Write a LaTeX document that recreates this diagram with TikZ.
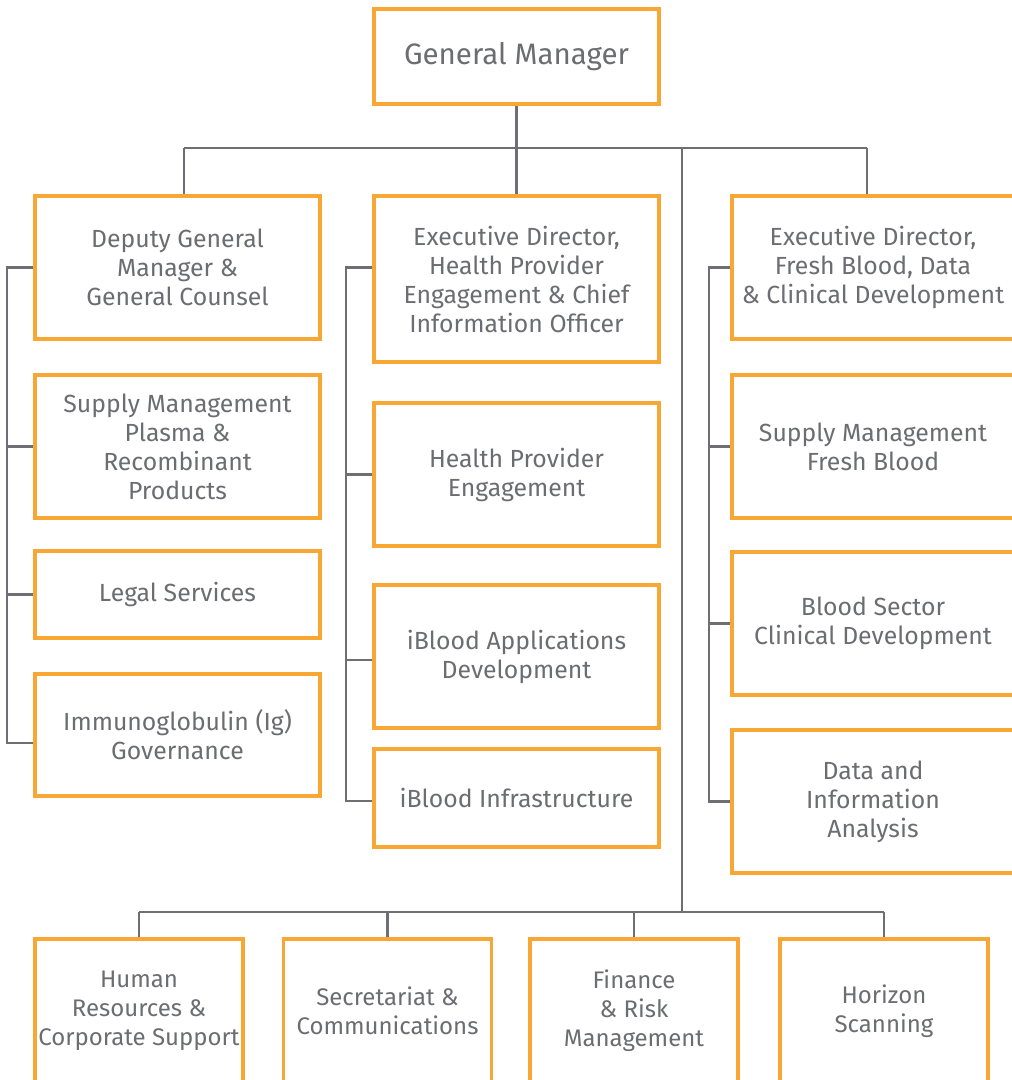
\documentclass[tikz,border=0pt]{standalone}
\usepackage{fontspec}
\setmainfont{Fira Sans}
\usetikzlibrary{positioning}
\definecolor{boxorange}{RGB}{248,166,52}
\definecolor{txtgray}{RGB}{108,109,113}
\definecolor{linegray}{RGB}{110,110,116}
\tikzset{
  unit/.style={draw=boxorange, line width=3.5pt, fill=white, text=txtgray,
    align=center, inner sep=0pt, font=\fontsize{24.8}{29}\selectfont},
  colbox/.style={unit, minimum width=285pt},
  basebox/.style={unit, minimum width=208pt, minimum height=144pt,
    font=\fontsize{24}{29}\selectfont},
  conn/.style={draw=linegray, line width=2.2pt}
}
\begin{document}
\begin{tikzpicture}[x=1pt,y=-1pt]
  \useasboundingbox (0,0) rectangle (1012,1080);
  \clip (0,0) rectangle (1012,1080);
  % top
  \node[unit, minimum width=285pt, minimum height=95pt, font=\fontsize{29.5}{35}\selectfont] (gm) at (516.5,56.5) {General Manager};
  % left column
  \node[colbox, minimum height=143pt] (deputy) at (177.5,267.5) {Deputy General\\Manager \&\\General Counsel};
  \node[colbox, minimum height=143pt] (plasma) at (177.5,446.5) {Supply Management\\Plasma \&\\Recombinant\\Products};
  \node[colbox, minimum height=87pt] (legal) at (177.5,594.5) {Legal Services};
  \node[colbox, minimum height=122pt] (immuno) at (177.5,735) {Immunoglobulin (Ig)\\Governance};
  % centre column
  \node[colbox, minimum height=166pt] (edhpe) at (516.5,279) {Executive Director,\\Health Provider\\Engagement \& Chief\\Information Officer};
  \node[colbox, minimum height=143pt] (hpe) at (516.5,474.5) {Health Provider\\Engagement};
  \node[colbox, minimum height=143pt] (apps) at (516.5,656.5) {iBlood Applications\\Development};
  \node[colbox, minimum height=98pt] (infra) at (516.5,798) {iBlood Infrastructure};
  % right column
  \node[colbox, minimum width=282pt, minimum height=143pt] (edfresh) at (873,267.5) {Executive Director,\\Fresh Blood, Data\\\& Clinical Development};
  \node[colbox, minimum width=282pt, minimum height=143pt] (fresh) at (873,446.5) {Supply Management\\Fresh Blood};
  \node[colbox, minimum width=282pt, minimum height=143pt] (sector) at (873,623.5) {Blood Sector\\Clinical Development};
  \node[colbox, minimum width=282pt, minimum height=143pt] (datainfo) at (873,801.5) {Data and\\Information\\Analysis};
  % bottom row
  \node[basebox] (hr) at (139,1011) {Human\\Resources \&\\Corporate Support};
  \node[basebox] (secr) at (387.5,1011) {Secretariat \&\\Communications};
  \node[basebox] (fin) at (634,1011) {Finance\\\& Risk\\Management};
  \node[basebox] (horizon) at (884,1011) {Horizon\\Scanning};
  % connectors
  \coordinate (busL) at (184,148);
  \coordinate (busR) at (867,148);
  \coordinate (trunk) at (682,148);
  \coordinate (trunkend) at (682,912);
  \draw[conn] (gm.south) -- (gm.south |- busL) -- (edhpe.north);
  \draw[conn] (busL) -- (busR);
  \draw[conn] (busL) -- (busL |- deputy.north);
  \draw[conn] (busR) -- (busR |- edfresh.north);
  \draw[conn] (trunk) -- (trunkend);
  \draw[conn] (hr.north |- trunkend) -- (horizon.north |- trunkend);
  \foreach \b in {hr,secr,fin,horizon}
    \draw[conn] (\b.north) -- (\b.north |- trunkend);
  % left bracket
  \draw[conn] (deputy.west) -- ++(-26,0) |- ([yshift=-8pt]immuno.west);
  \draw[conn] (plasma.west) -- ++(-26,0);
  \draw[conn] (legal.west) -- ++(-26,0);
  % centre bracket
  \draw[conn] (edhpe.west |- deputy.west) -- ++(-26,0) |- ([yshift=-3pt]infra.west);
  \draw[conn] (hpe.west) -- ++(-26,0);
  \draw[conn] ([yshift=-3.5pt]apps.west) -- ++(-26,0);
  % right bracket
  \draw[conn] (edfresh.west) -- ++(-21,0) |- (datainfo.west);
  \draw[conn] (fresh.west) -- ++(-21,0);
  \draw[conn] (sector.west) -- ++(-21,0);
\end{tikzpicture}
\end{document}
